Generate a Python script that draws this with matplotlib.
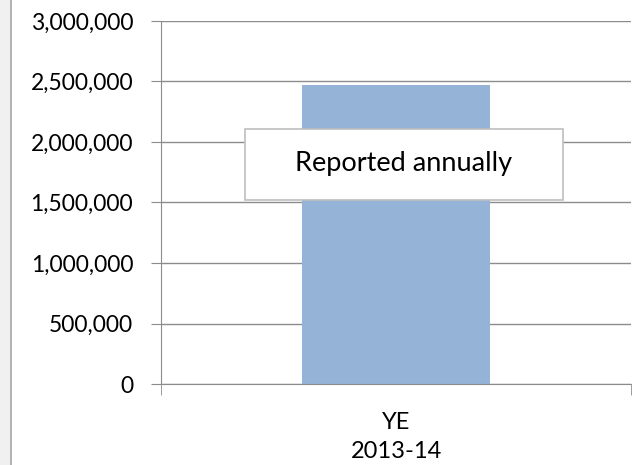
import matplotlib.pyplot as plt
from matplotlib.patches import Rectangle
from matplotlib.ticker import FuncFormatter

categories = ["YE\n2013-14"]
values = [2475000]
yticks = [0, 500000, 1000000, 1500000, 2000000, 2500000, 3000000]
note = "Reported annually"

plt.rcParams['font.family'] = ['Lato', 'DejaVu Sans']

fig = plt.figure(figsize=(6.41, 4.65), dpi=100)
W, H = 641, 465

# grey strip on the left edge
fig.patches.append(Rectangle((0, 0), 10 / W, 1, transform=fig.transFigure,
                             facecolor='#f0f0f0', edgecolor='none', zorder=0))
fig.lines.append(plt.Line2D([10.5 / W, 10.5 / W], [0, 1], transform=fig.transFigure,
                            color='#a6a6a6', lw=1.2))

ax = fig.add_axes([161 / W, 1 - 384 / H, 470 / W, 363 / H])
x = list(range(len(categories)))
ax.bar(x, values, width=0.4, color='#95b3d7', zorder=2)

ax.set_xlim(-0.5, len(categories) - 0.5)
ax.set_ylim(0, 3000000)
ax.set_yticks(yticks)
ax.yaxis.set_major_formatter(FuncFormatter(lambda v, p: f"{int(v):,}"))
ax.grid(axis='y', color='#8c8c8c', lw=1, zorder=0)
ax.tick_params(axis='y', length=7, color='#8c8c8c', labelsize=16.5, pad=13)

ax.set_xticks(x)
ax.set_xticklabels(categories, fontsize=17, linespacing=1.5)
ax.set_xticks([-0.5, len(categories) - 0.5], minor=True)
ax.tick_params(axis='x', which='major', length=0, pad=20)
ax.tick_params(axis='x', which='minor', length=8, color='#8c8c8c')

for s in ['top', 'right']:
    ax.spines[s].set_visible(False)
for s in ['left', 'bottom']:
    ax.spines[s].set_color('#8c8c8c')

# note box
fig.patches.append(Rectangle((245 / W, 1 - 200 / H), 318 / W, 71 / H,
                             transform=fig.transFigure, facecolor='white',
                             edgecolor='#bfbfbf', lw=1.2, zorder=5))
fig.text(404 / W, 1 - 164 / H, note, ha='center', va='center',
         fontsize=19.5, zorder=6)

fig.savefig("out.png", dpi=100)
